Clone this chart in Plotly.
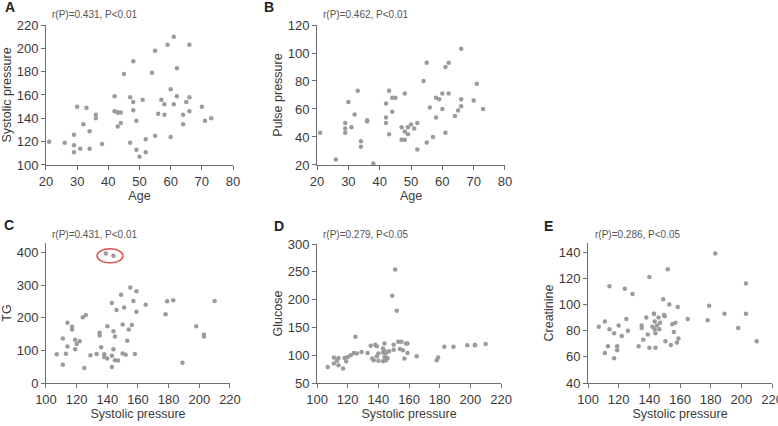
import plotly.graph_objects as go

W, H = 778, 426

# Panel A: Age vs Systolic pressure
a_age = [21, 26, 29, 29, 29, 30, 31, 32, 33, 34, 34, 36, 36, 38, 42, 42, 43, 43, 44, 43, 44, 45, 47, 47,
         48, 48, 48, 49, 49, 50, 51, 52, 52, 54, 55, 55, 56, 57, 58, 58, 59, 60, 60, 61, 61, 62, 62, 64,
         64, 65, 66, 66, 66, 70, 71, 73]
a_sys = [120, 119, 126, 117, 111, 150, 114, 135, 149, 129, 114, 143, 140, 118, 159, 146, 145, 145, 145,
         133, 136, 178, 158, 119, 189, 154, 147, 138, 113, 107, 156, 122, 111, 179, 198, 125, 144, 156,
         152, 143, 203, 165, 124, 210, 152, 183, 159, 143, 135, 154, 203, 158, 146, 150, 138, 140]

# Panel B: Age vs Pulse pressure
b_age = [21, 26, 29, 29, 29, 30, 31, 32, 33, 34, 34, 36, 36, 38, 42, 42, 42, 43, 43, 44, 44, 45, 47, 47,
         48, 48, 48, 49, 49, 50, 51, 52, 52, 54, 55, 55, 56, 57, 58, 58, 59, 60, 60, 61, 61, 62, 62, 64,
         65, 66, 66, 66, 70, 71, 73]
b_pp = [43, 24, 50, 46, 43, 65, 47, 56, 73, 37, 33, 52, 51, 21, 64, 54, 50, 73, 42, 68, 58, 68, 47, 38,
        71, 44, 38, 47, 42, 49, 46, 50, 31, 80, 93, 36, 61, 40, 68, 54, 67, 60, 71, 90, 43, 93, 71, 55,
        59, 103, 67, 62, 66, 78, 60]

# Panel C: Systolic pressure vs TG
c_sys = [107, 111, 111, 113, 114, 114, 117, 117, 119, 119, 120, 122, 124, 126, 125, 129, 133, 135, 135,
         136, 138, 138, 140, 140, 139, 144, 143, 143, 143, 144, 144, 145, 145, 146, 147, 149, 150, 150,
         151, 152, 153, 154, 155, 156, 157, 158, 159, 159, 165, 178, 179, 183, 189, 198, 203, 203, 210]
c_tg = [88, 56, 137, 90, 112, 185, 173, 164, 133, 104, 120, 128, 202, 209, 46, 85, 89, 154, 146, 110,
        88, 80, 174, 75, 398, 391, 246, 84, 49, 159, 104, 70, 143, 224, 69, 271, 180, 91, 232, 87, 130,
        164, 293, 178, 252, 89, 282, 219, 240, 211, 251, 254, 62, 174, 148, 143, 252]

# Panel D: Systolic pressure vs Glucose
d_sys = [107, 111, 111, 113, 114, 114, 117, 118, 119, 120, 122, 124, 125, 126, 129, 133, 135, 136, 137,
         138, 139, 139, 140, 140, 143, 143, 143, 144, 144, 144, 145, 145, 146, 147, 149, 150, 150, 151,
         152, 153, 154, 155, 156, 157, 158, 159, 159, 165, 178, 179, 183, 189, 198, 203, 203, 210]
d_glu = [79, 96, 85, 90, 82, 95, 76, 95, 89, 97, 100, 104, 133, 103, 106, 104, 117, 94, 91, 119, 98, 116,
         90, 103, 105, 112, 89, 121, 97, 108, 104, 91, 95, 107, 207, 119, 110, 254, 180, 124, 111, 124,
         109, 94, 121, 121, 104, 98, 91, 96, 115, 115, 118, 119, 118, 120]

# Panel E: Systolic pressure vs Creatinine
e_sys = [107, 111, 111, 113, 114, 114, 117, 117, 119, 119, 120, 122, 124, 125, 126, 129, 133, 135, 135,
         136, 138, 139, 140, 140, 142, 143, 143, 143.5, 143.5, 144, 144, 145, 146, 146.5, 147, 149,
         149.5, 150, 150.5, 152, 153, 154, 155, 156, 157, 158, 158.5, 159, 165, 178, 179, 183, 189, 198,
         203, 203, 210]
e_cre = [83, 87, 63, 68, 114, 81, 78, 59, 68, 65, 84, 76, 112, 89, 80, 108, 68, 84, 82, 73, 90, 77, 121,
         67, 83, 93, 93, 87, 81, 67, 78, 84, 90, 81, 86, 104, 92, 91, 72, 127, 100, 69, 85, 79, 86, 71,
         98, 74, 89, 88, 99, 139, 93, 82, 116, 93, 72]

panels = [
    dict(x=a_age, y=a_sys, xt="Age", yt="Systolic pressure", xr=[20, 80], yr=[100, 220],
         xd=[0.0591, 0.2995], yd=[0.6127, 0.9413], xdt=10, ydt=20, letter="A",
         note="r(P)=0.431, P<0.01", lp=(3, 7), np_=(50, 15)),
    dict(x=b_age, y=b_pp, xt="Age", yt="Pulse pressure", xr=[20, 80], yr=[20, 120],
         xd=[0.4075, 0.6491], yd=[0.6127, 0.9413], xdt=10, ydt=20, letter="B",
         note="r(P)=0.462, P<0.01", lp=(262, 7), np_=(321, 15)),
    dict(x=c_sys, y=c_tg, xt="Systolic pressure", yt="TG", xr=[100, 220], yr=[0, 430],
         xd=[0.0591, 0.2956], yd=[0.1009, 0.4296], xdt=20, ydt=100, letter="C",
         note="r(P)=0.431, P<0.01", lp=(2, 225), np_=(50, 234)),
    dict(x=d_sys, y=d_glu, xt="Systolic pressure", yt="Glucose", xr=[100, 220], yr=[50, 300],
         xd=[0.4075, 0.644], yd=[0.1009, 0.4272], xdt=20, ydt=50, letter="D",
         note="r(P)=0.279, P<0.05", lp=(272, 226), np_=(321, 234)),
    dict(x=e_sys, y=e_cre, xt="Systolic pressure", yt="Creatinine", xr=[100, 220], yr=[40, 147],
         xd=[0.7558, 0.9923], yd=[0.1009, 0.4296], xdt=20, ydt=20, letter="E",
         note="r(P)=0.286, P<0.05", lp=(542, 226), np_=(593, 234)),
]

fig = go.Figure()
axis_color = "#6e6e6e"
text_color = "#3a3a3a"
font_fam = "Liberation Sans, Arial, sans-serif"
layout = dict()
annotations = []
for i, p in enumerate(panels, start=1):
    sfx = "" if i == 1 else str(i)
    fig.add_trace(go.Scatter(
        x=p["x"], y=p["y"], mode="markers",
        marker=dict(color="#9b9b9b", size=4.5),
        xaxis="x" + sfx, yaxis="y" + sfx, showlegend=False, hoverinfo="x+y"))
    common = dict(showgrid=False, zeroline=False, showline=True, linecolor=axis_color,
                  linewidth=1, ticks="outside", ticklen=4, tickcolor=axis_color,
                  automargin=False, ticklabeloverflow="allow",
                  tickfont=dict(size=13, color=text_color, family=font_fam))
    layout["xaxis" + sfx] = dict(domain=p["xd"], range=p["xr"], dtick=p["xdt"], tick0=0,
                                 anchor="y" + sfx,
                                 title=dict(text=p["xt"], font=dict(size=12.5, color=text_color,
                                                                    family=font_fam), standoff=2),
                                 **common)
    layout["yaxis" + sfx] = dict(domain=p["yd"], range=p["yr"], dtick=p["ydt"], tick0=0,
                                 anchor="x" + sfx,
                                 title=dict(text=p["yt"], font=dict(size=12.5, color=text_color,
                                                                    family=font_fam), standoff=2),
                                 **common)
    annotations.append(dict(text="<b>" + p["letter"] + "</b>", x=p["lp"][0] / W,
                            y=1 - p["lp"][1] / H, xref="paper", yref="paper", xanchor="left",
                            yanchor="middle", showarrow=False,
                            font=dict(size=14, color="#222", family=font_fam)))
    annotations.append(dict(text=p["note"], x=p["np_"][0] / W, y=1 - p["np_"][1] / H,
                            xref="paper", yref="paper", xanchor="left", yanchor="middle",
                            showarrow=False, font=dict(size=10, color="#555", family=font_fam)))

fig.update_layout(
    width=W, height=H, margin=dict(l=0, r=0, t=0, b=0),
    plot_bgcolor="white", paper_bgcolor="white",
    annotations=annotations,
    shapes=[dict(type="circle", xref="x3", yref="y3", x0=133.3, x1=150.2, y0=369, y1=412,
                 line=dict(color="#e0504a", width=1.5))],
    **layout)

fig.write_html("out.html")
